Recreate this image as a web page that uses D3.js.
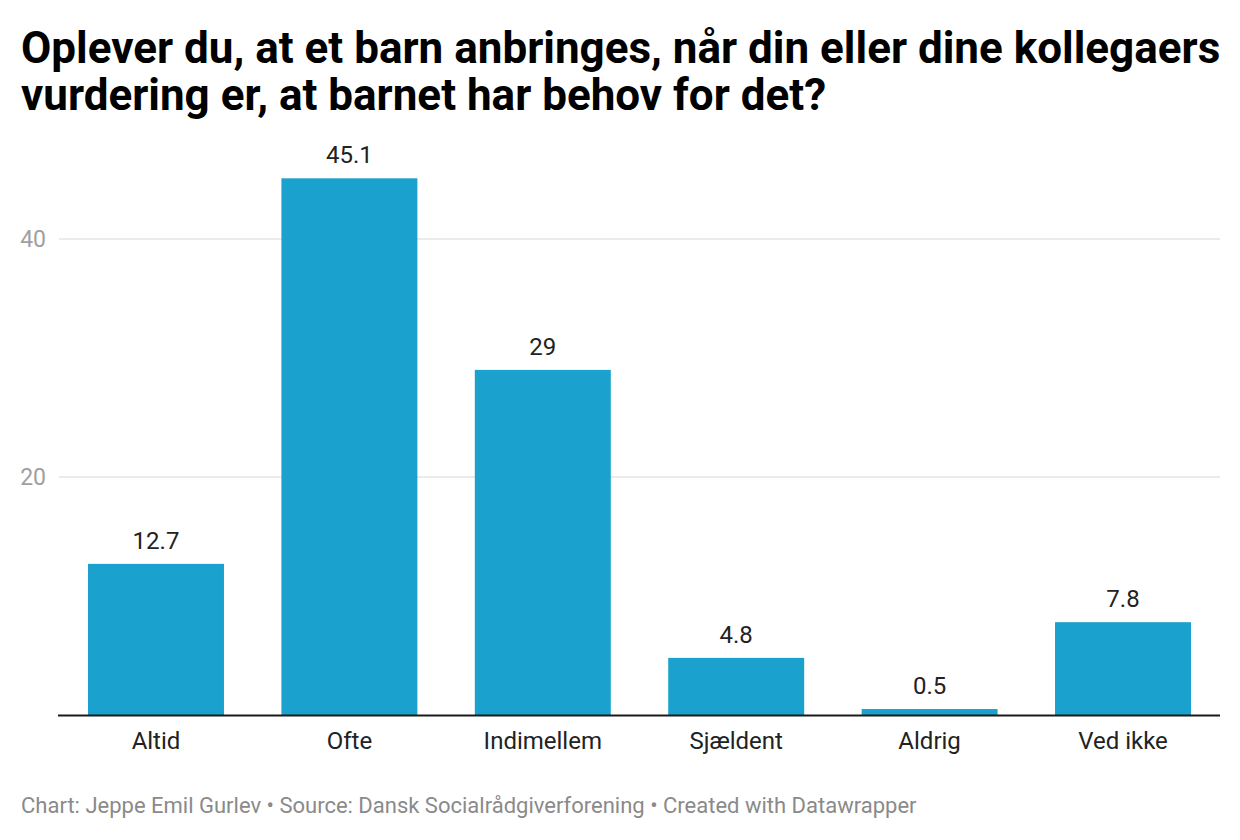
<!DOCTYPE html>
<html>
<head>
<meta charset="utf-8">
<script src="https://cdn.jsdelivr.net/npm/d3@7"></script>
<style>
  html, body { margin: 0; padding: 0; background: #fff; }
  svg { display: block; font-family: Roboto, sans-serif; }
</style>
</head>
<body>
<svg id="chart" width="1240" height="840"></svg>
<script>
const titleLines = ["Oplever du, at et barn anbringes, når din eller dine kollegaers", "vurdering er, at barnet har behov for det?"];
const categories = ["Altid", "Ofte", "Indimellem", "Sjældent", "Aldrig", "Ved ikke"];
const values = [12.7, 45.1, 29, 4.8, 0.5, 7.8];
const valueLabels = ["12.7", "45.1", "29", "4.8", "0.5", "7.8"];
const yTicks = [20, 40];
const footer = "Chart: Jeppe Emil Gurlev • Source: Dansk Socialrådgiverforening • Created with Datawrapper";

const svg = d3.select("#chart");

const x = d3.scaleBand().domain(categories).range([59, 1220]).paddingInner(0.297).paddingOuter(0.15);
const y = d3.scaleLinear().domain([0, 40]).range([715, 239]);

// title
svg.append("g").selectAll("text").data(titleLines).join("text")
  .attr("x", 21).attr("y", (d, i) => 63 + i * 47)
  .attr("font-size", 44).attr("font-weight", 700).attr("fill", "#000")
  .text(d => d);

// gridlines
const grid = svg.append("g");
grid.selectAll("line").data(yTicks).join("line")
  .attr("x1", 59).attr("x2", 1220)
  .attr("y1", d => y(d)).attr("y2", d => y(d))
  .attr("stroke", "#e5e5e5").attr("stroke-width", 1.3);
grid.selectAll("text").data(yTicks).join("text")
  .attr("x", 46).attr("y", d => y(d) + 8)
  .attr("text-anchor", "end").attr("font-size", 23).attr("fill", "#a0a0a0")
  .text(d => d);

// bars
svg.append("g").selectAll("rect").data(values).join("rect")
  .attr("x", (d, i) => x(categories[i]))
  .attr("width", x.bandwidth())
  .attr("y", d => y(d))
  .attr("height", d => y(0) - y(d))
  .attr("fill", "#1aa1cd");

// value labels
svg.append("g").selectAll("text").data(values).join("text")
  .attr("x", (d, i) => x(categories[i]) + x.bandwidth() / 2)
  .attr("y", d => y(d) - 15)
  .attr("text-anchor", "middle").attr("font-size", 24).attr("fill", "#222")
  .text((d, i) => valueLabels[i]);

// baseline
svg.append("line").attr("x1", 58).attr("x2", 1220)
  .attr("y1", y(0) + 0.5).attr("y2", y(0) + 0.5)
  .attr("stroke", "#1a1a1a").attr("stroke-width", 2);

// x axis labels
svg.append("g").selectAll("text").data(categories).join("text")
  .attr("x", d => x(d) + x.bandwidth() / 2)
  .attr("y", 749)
  .attr("text-anchor", "middle").attr("font-size", 24).attr("fill", "#222")
  .text(d => d);

// footer
svg.append("text").attr("x", 21).attr("y", 813)
  .attr("font-size", 22).attr("fill", "#8a8a8a")
  .text(footer);
</script>
</body>
</html>
